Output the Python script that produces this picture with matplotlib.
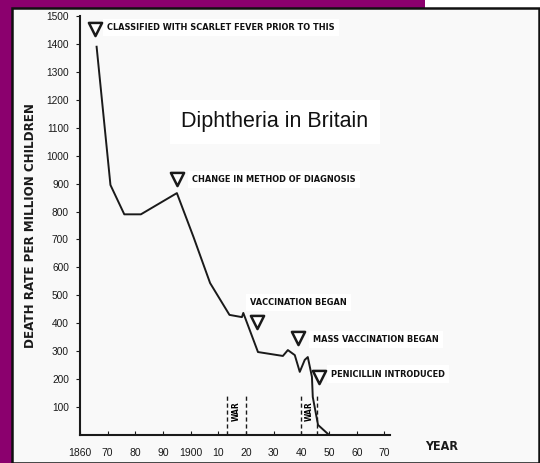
import matplotlib
matplotlib.use('Agg')
import matplotlib.pyplot as plt
from matplotlib import font_manager as fm
from matplotlib.patches import Rectangle

W, H = 540, 463
PURPLE = '#8b006e'
INK = '#1a1a1a'

# death rate per million children
years = [1866, 1871, 1876, 1882, 1895, 1901, 1907, 1914, 1918.5, 1919,
         1924.3, 1933.3, 1935.1, 1937.6, 1939.4, 1941.2, 1942.3, 1943.8,
         1944.1, 1946, 1950]
rates = [1390, 895, 790, 790, 866, 709, 544, 430, 422, 437,
         297, 283, 304, 286, 226, 269, 279, 208,
         136, 36, 0]

war_years = [1913, 1920, 1940, 1945.5]

note_years = [1865.4, 1895, 1923.9, 1938.7, 1946.3]
note_rates = [1453, 915, 405, 347, 208]
notes = ['CLASSIFIED WITH SCARLET FEVER PRIOR TO THIS',
         'CHANGE IN METHOD OF DIAGNOSIS',
         'VACCINATION BEGAN',
         'MASS VACCINATION BEGAN',
         'PENICILLIN INTRODUCED']
note_offsets = [(9, 1), (11, 0), (-5, 14), (11, -1), (9, 2)]

xtick_years = [1860, 1870, 1880, 1890, 1900, 1910, 1920, 1930, 1940, 1950, 1960, 1970]
xtick_labels = ['1860', '70', '80', '90', '1900', '10', '20', '30', '40', '50', '60', '70']
ytick_vals = [100, 200, 300, 400, 500, 600, 700, 800, 900, 1000,
              1100, 1200, 1300, 1400, 1500]


def _num(v, table):
    return v if isinstance(v, int) else table.get(v, 500)


def narrow_font():
    # the scan uses a bold condensed grotesque; take the boldest narrow face around
    best = None
    for f in fm.fontManager.ttflist:
        st = _num(f.stretch, fm.stretch_dict)
        wt = _num(f.weight, fm.weight_dict)
        narrow = 'Narrow' in f.name or 'Condensed' in f.name or st <= 300
        if not narrow or f.style != 'normal':
            continue
        score = abs(wt - 700)
        if best is None or score < best[0]:
            best = (score, f)
    if best is None or best[0] > 150:
        return {'family': 'Liberation Sans', 'weight': 'bold'}, False
    f = best[1]
    return {'family': f.name, 'stretch': f.stretch, 'weight': f.weight}, True


NF, CONDENSED = narrow_font()
note_size = 6.6 if CONDENSED else 6.0

fig = plt.figure(figsize=(W / 100, H / 100), dpi=100)
fig.patch.set_facecolor('white')


def box(x0, y0, w, h, **kw):
    # rectangle in pixel units, measured from the top-left corner
    r = Rectangle((x0 / W, 1 - (y0 + h) / H), w / W, h / H,
                  transform=fig.transFigure, zorder=-5, **kw)
    fig.add_artist(r)


# purple frame and the scanned page
box(0, 0, 12, H, fc=PURPLE, ec='none')
box(0, 0, 425, 9, fc=PURPLE, ec='none')
box(12, 8, W - 13, H - 8, fc='#f9f9f9', ec='#111111', lw=1.8)

ax = fig.add_axes([80 / W, 28 / H, 310 / W, 419 / H])
ax.set_facecolor('none')
ax.set_xlim(1860, 1972)
ax.set_ylim(0, 1500)

ax.plot(years, rates, color=INK, lw=1.4, solid_joinstyle='round', zorder=3)

ax.vlines(war_years, 0, 145, colors=INK, linestyles=(0, (3, 2)), lw=1)
for a, b in [(war_years[0], war_years[1]), (war_years[2], war_years[3])]:
    ax.text((a + b) / 2, 85, 'WAR', rotation=90, ha='center', va='center',
            fontsize=6, **NF)

ax.scatter(note_years, note_rates, marker='v', s=90, facecolor='white',
           edgecolor=INK, linewidths=1.8, zorder=4)
for yr, v, txt, off in zip(note_years, note_rates, notes, note_offsets):
    ax.annotate(txt, xy=(yr, v), xytext=off, textcoords='offset points',
                ha='left', va='center', fontsize=note_size,
                color='#111111', bbox=dict(fc='white', ec='none', pad=3), **NF)

fig.text(275 / W, 1 - 122 / H, 'Diphtheria in Britain', ha='center', va='center',
         fontsize=15.5, family='Liberation Sans', color='#111111',
         bbox=dict(fc='white', ec='none', pad=8))

for s in ['top', 'right']:
    ax.spines[s].set_visible(False)
for s in ['left', 'bottom']:
    ax.spines[s].set_linewidth(1.5)
    ax.spines[s].set_color(INK)

ax.set_xticks(xtick_years)
ax.set_xticklabels(xtick_labels)
ax.set_yticks(ytick_vals)
ax.set_yticklabels([str(v) for v in ytick_vals])
ax.tick_params(axis='x', direction='in', length=3, pad=9, labelsize=7.5, colors=INK)
ax.tick_params(axis='y', direction='out', length=3, pad=5, labelsize=7.3, colors=INK)
for lab in ax.get_xticklabels() + ax.get_yticklabels():
    lab.set_family('Liberation Sans')

ax.set_ylabel('DEATH RATE PER MILLION CHILDREN', fontsize=9.5 if CONDENSED else 8,
              color=INK, **NF)
ax.yaxis.set_label_coords(-0.14, 0.5)
ax.set_xlabel('YEAR', fontsize=9, color=INK, **NF)
ax.xaxis.set_label_coords(1.165, -0.012)
ax.xaxis.label.set_va('top')

fig.savefig('out.png', dpi=100)
